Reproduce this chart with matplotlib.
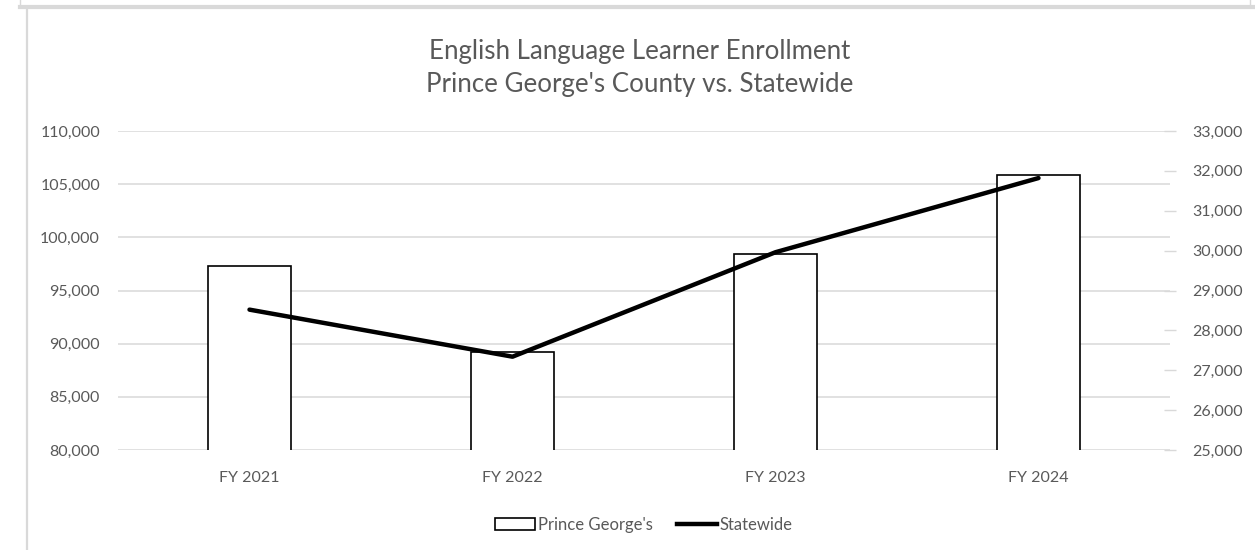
import matplotlib
matplotlib.use("Agg")
import matplotlib.pyplot as plt
from matplotlib.lines import Line2D
from matplotlib.patches import Patch
from matplotlib.ticker import FuncFormatter

# values
years = ["FY 2021", "FY 2022", "FY 2023", "FY 2024"]
prince_georges = [97300, 89250, 98450, 105850]   # bars, left axis
statewide = [28520, 27340, 29960, 31820]          # line, right axis
left_ticks = [80000, 85000, 90000, 95000, 100000, 105000, 110000]
right_ticks = [25000, 26000, 27000, 28000, 29000, 30000, 31000, 32000, 33000]

GRAY = "#595959"
GRID = "#d9d9d9"
plt.rcParams["font.family"] = ["Lato", "DejaVu Sans"]

W, H = 1255, 550
fig = plt.figure(figsize=(W / 100, H / 100), dpi=100)
ax = fig.add_axes([118 / W, 1 - 450 / H, (1170 - 118) / W, (450 - 131) / H])

x = range(len(years))
ax.bar(x, prince_georges, width=0.315, color="white", edgecolor="black",
       linewidth=1.2, zorder=2)
ax.set_ylim(left_ticks[0], left_ticks[-1])
ax.set_xlim(-0.5, len(years) - 0.5)
ax.set_yticks(left_ticks)
ax.yaxis.set_major_formatter(FuncFormatter(lambda v, p: f"{v:,.0f}"))
ax.set_xticks(list(x))
ax.set_xticklabels(years)
ax.grid(axis="y", color=GRID, linewidth=1.1, zorder=0)
ax.set_axisbelow(True)
ax.tick_params(axis="y", length=0, pad=13, labelsize=11.5, labelcolor=GRAY)
ax.tick_params(axis="x", length=0, pad=15, labelsize=11.5, labelcolor=GRAY)
for s in ax.spines.values():
    s.set_visible(False)

ax2 = ax.twinx()
ax2.plot(x, statewide, color="black", linewidth=3.2, solid_capstyle="round",
         solid_joinstyle="round", zorder=3)
ax2.set_ylim(right_ticks[0], right_ticks[-1])
ax2.set_yticks(right_ticks)
ax2.yaxis.set_major_formatter(FuncFormatter(lambda v, p: f"{v:,.0f}"))
ax2.tick_params(axis="y", direction="inout", length=9, width=1, color=GRID,
                pad=11.5, labelsize=11.5, labelcolor=GRAY)
for s in ax2.spines.values():
    s.set_visible(False)

fig.text(640 / W, 1 - 68 / H,
         "English Language Learner Enrollment\nPrince George's County vs. Statewide",
         ha="center", va="center", fontsize=18.6, color=GRAY, linespacing=1.36)

handles = [Patch(facecolor="white", edgecolor="black", linewidth=1.2),
           Line2D([0], [0], color="black", linewidth=3.2)]
fig.legend(handles, ["Prince George's", "Statewide"], loc="center",
           bbox_to_anchor=(644 / W, 1 - 525 / H), ncol=2, frameon=False,
           fontsize=12, labelcolor=GRAY, handlelength=2.4,
           handletextpad=0.15, columnspacing=1.5)

# border of the surrounding chart frame
def fline(xs, ys, lw):
    fig.add_artist(Line2D([v / W for v in xs], [1 - v / H for v in ys],
                          color=GRID, linewidth=lw))

fline([20, 1255], [7, 7], 3)
fline([20, 20], [0, 7], 1)
fline([1250, 1250], [0, 7], 1)
fline([27, 27], [9, 550], 1.6)

fig.savefig("out.png", dpi=100)
